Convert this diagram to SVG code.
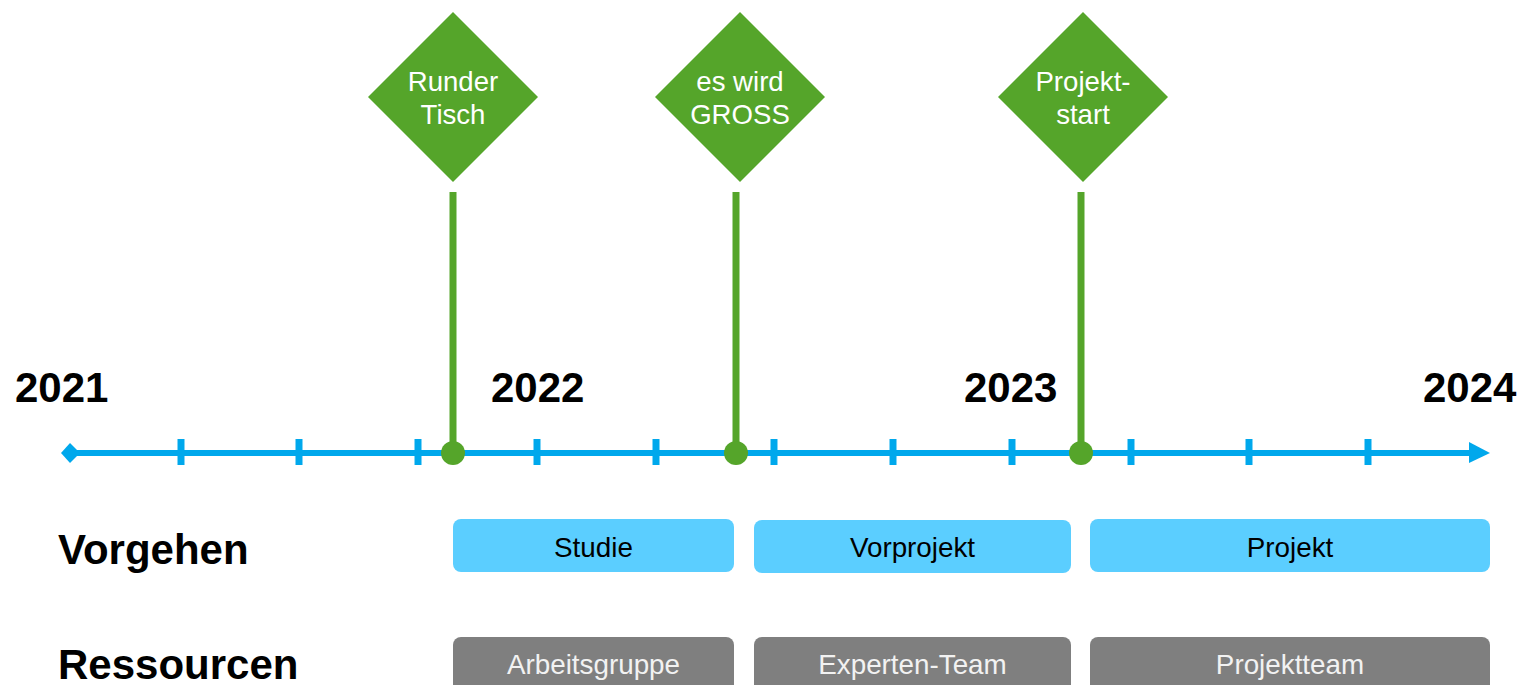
<svg xmlns="http://www.w3.org/2000/svg" width="1521" height="685" viewBox="0 0 1521 685">
<style>
.yr{font-family:"Liberation Sans",Arial,sans-serif;font-weight:bold;font-size:42px;fill:#000}
.lbl{font-family:"Liberation Sans",Arial,sans-serif;font-weight:bold;font-size:42px;fill:#000}
.ms{fill:#55A52A}
.mt{font-family:"Liberation Sans",Arial,sans-serif;font-size:27.6px;fill:#fff;text-anchor:middle}
.bb{fill:#5BCEFF}
.gb{fill:#7F7F7F}
.bt{font-family:"Liberation Sans",Arial,sans-serif;font-size:27.8px;fill:#000;text-anchor:middle}
.gt{font-family:"Liberation Sans",Arial,sans-serif;font-size:27.8px;fill:#F2F2F2;text-anchor:middle}
.tick{stroke:#00A8EC;stroke-width:7}
.stem{stroke:#55A52A;stroke-width:7}
</style>
<g id="timeline">
<line x1="70" y1="453" x2="1472" y2="453" stroke="#00A8EC" stroke-width="6"/>
<polygon points="61,453 70,443 80,453 70,463" fill="#00A8EC"/>
<polygon points="1469,442 1490,453 1469,463" fill="#00A8EC"/>
<g class="tick">
<line x1="181" y1="439" x2="181" y2="465"/>
<line x1="299" y1="439" x2="299" y2="465"/>
<line x1="418" y1="439" x2="418" y2="465"/>
<line x1="537" y1="439" x2="537" y2="465"/>
<line x1="656" y1="439" x2="656" y2="465"/>
<line x1="774" y1="439" x2="774" y2="465"/>
<line x1="893" y1="439" x2="893" y2="465"/>
<line x1="1012" y1="439" x2="1012" y2="465"/>
<line x1="1131" y1="439" x2="1131" y2="465"/>
<line x1="1249" y1="439" x2="1249" y2="465"/>
<line x1="1368" y1="439" x2="1368" y2="465"/>
</g>
</g>
<g id="years">
<text class="yr" x="15" y="402">2021</text>
<text class="yr" x="491" y="402">2022</text>
<text class="yr" x="964" y="402">2023</text>
<text class="yr" x="1423" y="402">2024</text>
</g>
<g id="connectors">
<line class="stem" x1="453" y1="192" x2="453" y2="453"/>
<line class="stem" x1="736" y1="192" x2="736" y2="453"/>
<line class="stem" x1="1081" y1="192" x2="1081" y2="453"/>
<circle cx="453" cy="453" r="12" fill="#55A52A"/>
<circle cx="736" cy="453" r="12" fill="#55A52A"/>
<circle cx="1081" cy="453" r="12" fill="#55A52A"/>
</g>
<g id="m1">
<polygon class="ms" points="453,12 538,97 453,182 368,97"/>
<text class="mt" x="453" y="91">Runder</text>
<text class="mt" x="453" y="124">Tisch</text>
</g>
<g id="m2">
<polygon class="ms" points="740,12 825,97 740,182 655,97"/>
<text class="mt" x="740" y="91">es wird</text>
<text class="mt" x="740" y="124">GROSS</text>
</g>
<g id="m3">
<polygon class="ms" points="1083,12 1168,97 1083,182 998,97"/>
<text class="mt" x="1083" y="91">Projekt-</text>
<text class="mt" x="1083" y="124">start</text>
</g>
<g id="labels">
<text class="lbl" x="58" y="564">Vorgehen</text>
<text class="lbl" x="58" y="679">Ressourcen</text>
</g>
<g id="studie"><rect class="bb" x="453" y="519" width="281" height="53" rx="8"/><text class="bt" x="593.5" y="557">Studie</text></g>
<g id="vorprojekt"><rect class="bb" x="754" y="520" width="317" height="53" rx="8"/><text class="bt" x="912.5" y="557">Vorprojekt</text></g>
<g id="projekt"><rect class="bb" x="1090" y="519" width="400" height="53" rx="8"/><text class="bt" x="1290" y="557">Projekt</text></g>
<g id="arbeitsgruppe"><rect class="gb" x="453" y="637" width="281" height="60" rx="8"/><text class="gt" x="593.5" y="674">Arbeitsgruppe</text></g>
<g id="expertenteam"><rect class="gb" x="754" y="637" width="317" height="60" rx="8"/><text class="gt" x="912.5" y="674">Experten-Team</text></g>
<g id="projektteam"><rect class="gb" x="1090" y="637" width="400" height="60" rx="8"/><text class="gt" x="1290" y="674">Projektteam</text></g>
</svg>
